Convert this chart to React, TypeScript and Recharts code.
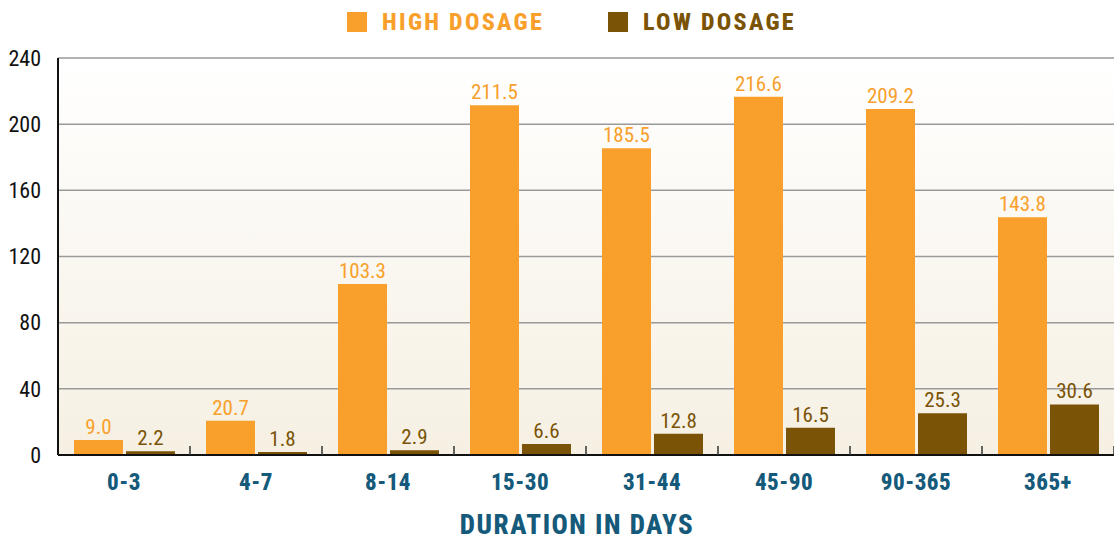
import React from "react";
import { BarChart, Bar, XAxis, YAxis, CartesianGrid, LabelList } from "recharts";

const durations = ["0-3", "4-7", "8-14", "15-30", "31-44", "45-90", "90-365", "365+"];
const highDosage = [9.0, 20.7, 103.3, 211.5, 185.5, 216.6, 209.2, 143.8];
const lowDosage = [2.2, 1.8, 2.9, 6.6, 12.8, 16.5, 25.3, 30.6];
const yTicks = [0, 40, 80, 120, 160, 200, 240];
const seriesNames = ["HIGH DOSAGE", "LOW DOSAGE"];

const ORANGE = "#f8a02b";
const BROWN = "#7a5306";
const BLUE = "#155a7a";
const FONT = "'Roboto Condensed', 'Liberation Sans Narrow', 'DejaVu Sans Condensed', Roboto, sans-serif";

const data = durations.map((d, i) => ({ name: d, high: highDosage[i], low: lowDosage[i] }));

function DurationTick(props: any) {
    const { x, y, payload } = props;
    const half = payload && payload.offset ? payload.offset : 66;
    return (
        <g>
            <line x1={x + half} x2={x + half} y1={y - 9} y2={y} stroke="#333" strokeWidth={1.5} />
            <text x={x} y={y + 35} textAnchor="middle" fill={BLUE} fontFamily={FONT} fontWeight={800} fontSize={23}
                letterSpacing={0.5}>
                {payload.value}
            </text>
        </g>
    );
}

function AxisTitle(props: any) {
    const { viewBox } = props;
    const cx = viewBox.x + viewBox.width / 2 - 9;
    return (
        <text x={cx} y={viewBox.y + viewBox.height - 8} textAnchor="middle" fill={BLUE} fontFamily={FONT}
            fontWeight={800} fontSize={27} letterSpacing={1.5}>
            DURATION IN DAYS
        </text>
    );
}

function TopLegend() {
    const item = (color: string, label: string, gap: number) => (
        <div style={{ display: "flex", alignItems: "center", marginRight: gap }}>
            <div style={{ width: 20, height: 20, background: color, marginRight: 15 }} />
            <span style={{ color, fontFamily: FONT, fontWeight: 800, fontSize: 24, letterSpacing: 2.3 }}>{label}</span>
        </div>
    );
    return (
        <div style={{ position: "absolute", left: 0, top: 0, display: "flex", paddingLeft: 347, height: 44, alignItems: "center" }}>
            {item(ORANGE, seriesNames[0], 64)}
            {item(BROWN, seriesNames[1], 0)}
        </div>
    );
}

export default function App() {
    return (
        <div style={{ position: "absolute", left: 0, top: 0, width: 1114, height: 542, background: "#fff" }}>
            <BarChart width={1114} height={542} data={data} margin={{ top: 58, right: 0, bottom: 0, left: 0 }}
                barCategoryGap={16} barGap={3}>
                <defs>
                    <linearGradient id="bgGrad" x1="0" y1="0" x2="0" y2="1">
                        <stop offset="0%" stopColor="#ffffff" />
                        <stop offset="100%" stopColor="#f6f0e3" />
                    </linearGradient>
                </defs>
                <CartesianGrid vertical={false} stroke="#9a9a9a" strokeWidth={1.5} fill="url(#bgGrad)" fillOpacity={1} />
                <XAxis dataKey="name" height={87} tickSize={0} tickMargin={0} tickLine={false}
                    axisLine={{ stroke: "#111", strokeWidth: 2 }} tick={<DurationTick />} interval={0}
                    label={<AxisTitle />} />
                <YAxis width={58} domain={[0, 240]} ticks={yTicks} tickLine={false} tickMargin={11}
                    axisLine={{ stroke: "#111", strokeWidth: 2 }}
                    tick={{ fill: "#111", fontFamily: FONT, fontSize: 22 }} />
                <Bar dataKey="high" name={seriesNames[0]} fill={ORANGE} isAnimationActive={false}>
                    <LabelList dataKey="high" position="top" offset={6} fill={ORANGE}
                        fontFamily={FONT} fontSize={21} formatter={(v: any) => Number(v).toFixed(1)} />
                </Bar>
                <Bar dataKey="low" name={seriesNames[1]} fill={BROWN} isAnimationActive={false}>
                    <LabelList dataKey="low" position="top" offset={6} fill={BROWN}
                        fontFamily={FONT} fontSize={21} formatter={(v: any) => Number(v).toFixed(1)} />
                </Bar>
            </BarChart>
            <TopLegend />
        </div>
    );
}
